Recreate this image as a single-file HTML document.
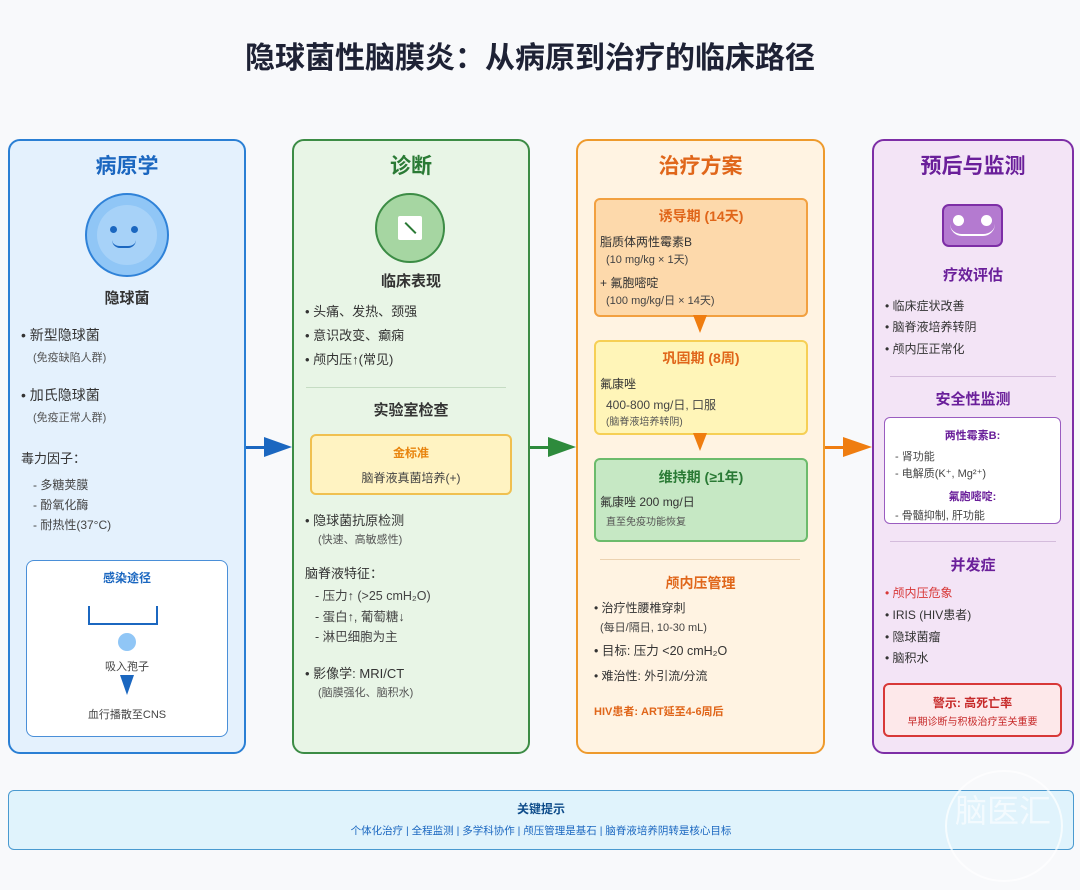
<!DOCTYPE html>
<html><head><meta charset="utf-8">
<style>
*{margin:0;padding:0;box-sizing:border-box}
body{width:1080px;height:890px;background:#f8f9fb;position:relative;overflow:hidden;font-family:"Liberation Sans","Noto Sans CJK SC",sans-serif;color:#333}
.a{position:absolute;white-space:nowrap;line-height:1}
.c{text-align:center}
.box{position:absolute;border-radius:12px}
.b{font-weight:bold}
</style></head><body>
<div class="a b c" style="left:0;width:1060px;top:44px;font-size:30px;color:#1e2235">隐球菌性脑膜炎：从病原到治疗的临床路径</div>

<!-- col1 -->
<div class="box" style="left:8px;top:139px;width:238px;height:615px;background:#e4f1fd;border:2px solid #2a7fd4"></div>
<div class="a b c" style="left:8px;width:238px;top:156px;font-size:21px;color:#1b67c0">病原学</div>
<div class="a" style="left:85px;top:193px;width:84px;height:84px;border-radius:50%;background:#90c6f6;border:2px solid #2f82d8"></div>
<div class="a" style="left:97px;top:205px;width:60px;height:60px;border-radius:50%;background:#a7d2f8"></div>
<div class="a" style="left:110px;top:226px;width:7px;height:7px;border-radius:50%;background:#1b67c0"></div>
<div class="a" style="left:131px;top:226px;width:7px;height:7px;border-radius:50%;background:#1b67c0"></div>
<div class="a" style="left:112px;top:240px;width:24px;height:8px;border-bottom:2.5px solid #1b67c0;border-radius:0 0 12px 12px"></div>
<div class="a b c" style="left:8px;width:238px;top:291px;font-size:15px;color:#333">隐球菌</div>
<div class="a" style="left:21px;top:328px;font-size:14px">• 新型隐球菌</div>
<div class="a" style="left:33px;top:353px;font-size:11px;color:#555">(免疫缺陷人群)</div>
<div class="a" style="left:21px;top:388px;font-size:14px">• 加氏隐球菌</div>
<div class="a" style="left:33px;top:413px;font-size:11px;color:#555">(免疫正常人群)</div>
<div class="a" style="left:21px;top:452px;font-size:13px">毒力因子：</div>
<div class="a" style="left:33px;top:479px;font-size:12px;color:#444">- 多糖荚膜</div>
<div class="a" style="left:33px;top:499px;font-size:12px;color:#444">- 酚氧化酶</div>
<div class="a" style="left:33px;top:519px;font-size:12px;color:#444">- 耐热性(37°C)</div>
<div class="box" style="left:26px;top:560px;width:202px;height:177px;background:#fff;border:1.5px solid #4a8fd8;border-radius:8px"></div>
<div class="a b c" style="left:26px;width:202px;top:572px;font-size:12px;color:#1b67c0">感染途径</div>
<div class="a" style="left:88px;top:606px;width:70px;height:19px;border:2px solid #1b67c0;border-top:none"></div>
<div class="a" style="left:118px;top:633px;width:18px;height:18px;border-radius:50%;background:#90c6f6"></div>
<div class="a c" style="left:26px;width:202px;top:662px;font-size:11px;color:#444">吸入孢子</div>
<div class="a" style="left:120px;top:675px;width:0;height:0;border-left:7px solid transparent;border-right:7px solid transparent;border-top:20px solid #1b67c0"></div>
<div class="a c" style="left:26px;width:202px;top:710px;font-size:11px;color:#444">血行播散至CNS</div>

<!-- arrows -->
<div class="a" style="left:246px;top:446px;width:24px;height:3px;background:#1b67c0"></div>
<div class="a" style="left:264px;top:437px;border-top:10px solid transparent;border-bottom:10px solid transparent;border-left:28px solid #1b67c0"></div>
<div class="a" style="left:530px;top:446px;width:24px;height:3px;background:#2e8b3c"></div>
<div class="a" style="left:548px;top:437px;border-top:10px solid transparent;border-bottom:10px solid transparent;border-left:28px solid #2e8b3c"></div>
<div class="a" style="left:825px;top:446px;width:24px;height:3px;background:#ef7d10"></div>
<div class="a" style="left:843px;top:437px;border-top:10px solid transparent;border-bottom:10px solid transparent;border-left:29px solid #ef7d10"></div>

<!-- col2 -->
<div class="box" style="left:292px;top:139px;width:238px;height:615px;background:#e8f5e6;border:2px solid #3c8c45"></div>
<div class="a b c" style="left:292px;width:238px;top:156px;font-size:21px;color:#2a7a35">诊断</div>
<div class="a" style="left:375px;top:193px;width:70px;height:70px;border-radius:50%;background:#a6d6a2;border:2px solid #3c8c45"></div>
<div class="a" style="left:398px;top:216px;width:24px;height:24px;background:#fff;border-radius:2px"></div>
<div class="a" style="left:403px;top:227px;width:15px;height:2px;background:#2a7a35;transform:rotate(45deg)"></div>
<div class="a b c" style="left:292px;width:238px;top:274px;font-size:15px">临床表现</div>
<div class="a" style="left:305px;top:305px;font-size:13px">• 头痛、发热、颈强</div>
<div class="a" style="left:305px;top:329px;font-size:13px">• 意识改变、癫痫</div>
<div class="a" style="left:305px;top:353px;font-size:13px">• 颅内压↑(常见)</div>
<div class="a" style="left:306px;top:387px;width:200px;height:1px;background:#c5dcc3"></div>
<div class="a b c" style="left:292px;width:238px;top:403px;font-size:15px">实验室检查</div>
<div class="box" style="left:310px;top:434px;width:202px;height:61px;background:#fff3c2;border:2px solid #f0c050;border-radius:6px"></div>
<div class="a b c" style="left:310px;width:202px;top:447px;font-size:12px;color:#e8840e">金标准</div>
<div class="a c" style="left:310px;width:202px;top:472px;font-size:12px;color:#444">脑脊液真菌培养(+)</div>
<div class="a" style="left:305px;top:514px;font-size:13px">• 隐球菌抗原检测</div>
<div class="a" style="left:318px;top:535px;font-size:11px;color:#555">(快速、高敏感性)</div>
<div class="a" style="left:305px;top:567px;font-size:13px">脑脊液特征：</div>
<div class="a" style="left:315px;top:590px;font-size:12.5px;color:#444">- 压力↑ (&gt;25 cmH₂O)</div>
<div class="a" style="left:315px;top:611px;font-size:12.5px;color:#444">- 蛋白↑, 葡萄糖↓</div>
<div class="a" style="left:315px;top:631px;font-size:12.5px;color:#444">- 淋巴细胞为主</div>
<div class="a" style="left:305px;top:667px;font-size:13px">• 影像学: MRI/CT</div>
<div class="a" style="left:318px;top:688px;font-size:11px;color:#555">(脑膜强化、脑积水)</div>

<!-- col3 -->
<div class="box" style="left:576px;top:139px;width:249px;height:615px;background:#fff3e2;border:2px solid #ee9a2c"></div>
<div class="a b c" style="left:576px;width:249px;top:156px;font-size:21px;color:#e0661a">治疗方案</div>
<div class="box" style="left:594px;top:198px;width:214px;height:119px;background:#fdd9ab;border:2px solid #f2a040;border-radius:6px"></div>
<div class="a b c" style="left:594px;width:214px;top:209px;font-size:14px;color:#e0661a">诱导期 (14天)</div>
<div class="a" style="left:600px;top:236px;font-size:12px">脂质体两性霉素B</div>
<div class="a" style="left:606px;top:255px;font-size:11px;color:#444">(10 mg/kg × 1天)</div>
<div class="a" style="left:600px;top:277px;font-size:12px">+ 氟胞嘧啶</div>
<div class="a" style="left:606px;top:296px;font-size:11px;color:#444">(100 mg/kg/日 × 14天)</div>
<div class="a" style="left:693px;top:315px;border-left:7px solid transparent;border-right:7px solid transparent;border-top:18px solid #ef7d10"></div>
<div class="box" style="left:594px;top:340px;width:214px;height:95px;background:#fff5b8;border:2px solid #f6cf55;border-radius:6px"></div>
<div class="a b c" style="left:594px;width:214px;top:351px;font-size:14px;color:#e0661a">巩固期 (8周)</div>
<div class="a" style="left:600px;top:378px;font-size:12px">氟康唑</div>
<div class="a" style="left:606px;top:399px;font-size:12px;color:#444">400-800 mg/日, 口服</div>
<div class="a" style="left:606px;top:418px;font-size:10px;color:#555">(脑脊液培养转阴)</div>
<div class="a" style="left:693px;top:433px;border-left:7px solid transparent;border-right:7px solid transparent;border-top:18px solid #ef7d10"></div>
<div class="box" style="left:594px;top:458px;width:214px;height:84px;background:#c6e8c4;border:2px solid #6cbb6c;border-radius:6px"></div>
<div class="a b c" style="left:594px;width:214px;top:470px;font-size:14px;color:#2a7a35">维持期 (≥1年)</div>
<div class="a" style="left:600px;top:496px;font-size:12px">氟康唑 200 mg/日</div>
<div class="a" style="left:606px;top:518px;font-size:10px;color:#555">直至免疫功能恢复</div>
<div class="a" style="left:600px;top:559px;width:200px;height:1px;background:#ecd2b0"></div>
<div class="a b c" style="left:576px;width:249px;top:576px;font-size:14px;color:#e0661a">颅内压管理</div>
<div class="a" style="left:594px;top:602px;font-size:12px">• 治疗性腰椎穿刺</div>
<div class="a" style="left:600px;top:623px;font-size:11px;color:#444">(每日/隔日, 10-30 mL)</div>
<div class="a" style="left:594px;top:645px;font-size:12.5px">• 目标: 压力 &lt;20 cmH₂O</div>
<div class="a" style="left:594px;top:670px;font-size:12px">• 难治性: 外引流/分流</div>
<div class="a b" style="left:594px;top:707px;font-size:11px;color:#e0661a">HIV患者: ART延至4-6周后</div>

<!-- col4 -->
<div class="box" style="left:872px;top:139px;width:202px;height:615px;background:#f3e4f6;border:2px solid #7d2ea6"></div>
<div class="a b c" style="left:872px;width:202px;top:156px;font-size:21px;color:#6a1f9a">预后与监测</div>
<div class="a" style="left:942px;top:204px;width:61px;height:43px;border-radius:7px;background:#b47ad0;border:2px solid #7d2ea6"></div>
<div class="a" style="left:953px;top:215px;width:11px;height:11px;border-radius:50%;background:#fff"></div>
<div class="a" style="left:981px;top:215px;width:11px;height:11px;border-radius:50%;background:#fff"></div>
<div class="a" style="left:950px;top:224px;width:45px;height:12px;border-bottom:2px solid #fff;border-radius:0 0 22px 22px"></div>
<div class="a b c" style="left:872px;width:202px;top:268px;font-size:15px;color:#6a1f9a">疗效评估</div>
<div class="a" style="left:885px;top:300px;font-size:12px">• 临床症状改善</div>
<div class="a" style="left:885px;top:321px;font-size:12px">• 脑脊液培养转阴</div>
<div class="a" style="left:885px;top:343px;font-size:12px">• 颅内压正常化</div>
<div class="a" style="left:890px;top:376px;width:166px;height:1px;background:#d4bcdc"></div>
<div class="a b c" style="left:872px;width:202px;top:392px;font-size:15px;color:#6a1f9a">安全性监测</div>
<div class="box" style="left:884px;top:417px;width:177px;height:107px;background:#fff;border:1.5px solid #9a5cc0;border-radius:6px"></div>
<div class="a b c" style="left:884px;width:177px;top:431px;font-size:11px;color:#6a1f9a">两性霉素B:</div>
<div class="a" style="left:895px;top:452px;font-size:11px;color:#444">- 肾功能</div>
<div class="a" style="left:895px;top:469px;font-size:11px;color:#444">- 电解质(K⁺, Mg²⁺)</div>
<div class="a b c" style="left:884px;width:177px;top:492px;font-size:11px;color:#6a1f9a">氟胞嘧啶:</div>
<div class="a" style="left:895px;top:511px;font-size:11px;color:#444">- 骨髓抑制, 肝功能</div>
<div class="a" style="left:890px;top:541px;width:166px;height:1px;background:#d4bcdc"></div>
<div class="a b c" style="left:872px;width:202px;top:558px;font-size:15px;color:#6a1f9a">并发症</div>
<div class="a" style="left:885px;top:587px;font-size:12px;color:#d83838">• 颅内压危象</div>
<div class="a" style="left:885px;top:609px;font-size:12px">• IRIS (HIV患者)</div>
<div class="a" style="left:885px;top:631px;font-size:12px">• 隐球菌瘤</div>
<div class="a" style="left:885px;top:652px;font-size:12px">• 脑积水</div>
<div class="box" style="left:883px;top:683px;width:179px;height:54px;background:#fde8ea;border:2px solid #d83838;border-radius:6px"></div>
<div class="a b c" style="left:883px;width:179px;top:697px;font-size:12px;color:#c62828">警示: 高死亡率</div>
<div class="a c" style="left:883px;width:179px;top:718px;font-size:10px;color:#c62828">早期诊断与积极治疗至关重要</div>

<!-- bottom -->
<div class="box" style="left:8px;top:790px;width:1066px;height:60px;background:#e0f3fc;border:1.5px solid #4a9ad0;border-radius:6px"></div>
<div class="a b c" style="left:8px;width:1066px;top:803px;font-size:12px;color:#0f4c8a">关键提示</div>
<div class="a c" style="left:8px;width:1066px;top:826px;font-size:10.5px;color:#1b67c0">个体化治疗 | 全程监测 | 多学科协作 | 颅压管理是基石 | 脑脊液培养阴转是核心目标</div>
<div class="a" style="left:945px;top:770px;width:118px;height:112px;border-radius:50%;border:2px solid rgba(255,255,255,0.7)"></div>
<div class="a" style="left:955px;top:795px;font-size:32px;color:rgba(255,255,255,0.6)">脑医汇</div>
</body></html>
